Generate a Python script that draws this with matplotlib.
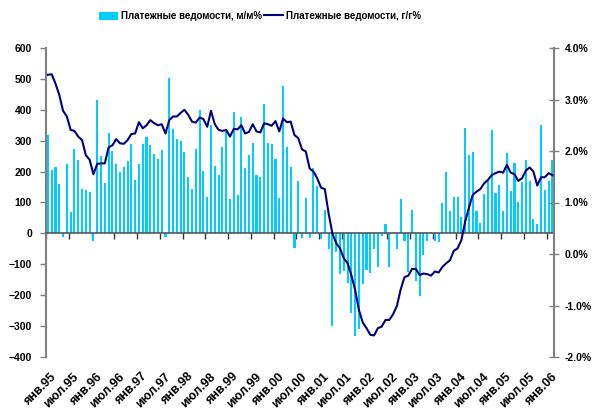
import matplotlib
matplotlib.use("Agg")
import matplotlib.pyplot as plt
from matplotlib.patches import Patch
from matplotlib.lines import Line2D
import numpy as np

mom = [320, 206, 216, 161, -12, 226, 68, 274, 239, 145, 139, 135,
       -25, 432, 252, 164, 326, 268, 226, 200, 216, 235, 289, 174,
       226, 289, 313, 287, 258, 242, 271, -12, 503, 339, 305, 298,
       264, 182, 145, 274, 400, 203, 119, 352, 219, 190, 281, 339,
       110, 393, 123, 377, 211, 255, 293, 190, 184, 419, 293, 290,
       242, 116, 477, 281, 216, -48, 171, -14, 116, -14, 213, 155,
       -18, 77, -51, -299, -60, -131, -121, -160, -259, -331, -311, -163,
       -118, -128, -51, -109, -8, 32, -109, 2, -52, 110, -23, -126,
       77, -154, -203, -70, -25, 3, -25, -28, 97, 200, 74, 119,
       119, 52, 342, 255, 264, 74, 33, 129, 173, 334, 132, 158,
       71, 261, 137, 227, 103, 166, 239, 171, 46, 32, 352, 142,
       169, 239]

yoy = [3.48, 3.49, 3.31, 3.09, 2.78, 2.67, 2.41, 2.39, 2.28, 2.21, 1.92, 1.83,
       1.55, 1.75, 1.76, 1.76, 2.07, 2.11, 2.23, 2.15, 2.14, 2.21, 2.33, 2.34,
       2.56, 2.44, 2.50, 2.60, 2.54, 2.50, 2.52, 2.34, 2.60, 2.67, 2.67, 2.74,
       2.80, 2.70, 2.57, 2.55, 2.65, 2.62, 2.47, 2.78, 2.52, 2.41, 2.39, 2.41,
       2.28, 2.43, 2.42, 2.50, 2.34, 2.37, 2.52, 2.38, 2.36, 2.54, 2.52, 2.49,
       2.58, 2.38, 2.63, 2.56, 2.57, 2.31, 2.25, 2.03, 1.99, 1.66, 1.60, 1.47,
       1.29, 1.26, 0.79, 0.40, 0.21, 0.11, -0.08, -0.18, -0.41, -0.70, -1.09, -1.33,
       -1.44, -1.57, -1.58, -1.44, -1.41, -1.28, -1.28, -1.17, -1.01, -0.69, -0.45, -0.42,
       -0.29, -0.29, -0.41, -0.38, -0.39, -0.42, -0.34, -0.36, -0.25, -0.18, -0.12, 0.06,
       0.11, 0.27, 0.63, 0.90, 1.15, 1.21, 1.26, 1.37, 1.44, 1.53, 1.57, 1.60,
       1.58, 1.73, 1.58, 1.55, 1.42, 1.47, 1.62, 1.68, 1.60, 1.33, 1.49, 1.49,
       1.57, 1.53]

tick_labels = ["янв.95", "июл.95", "янв.96", "июл.96", "янв.97", "июл.97",
               "янв.98", "июл.98", "янв.99", "июл.99", "янв.00", "июл.00",
               "янв.01", "июл.01", "янв.02", "июл.02", "янв.03", "июл.03",
               "янв.04", "июл.04", "янв.05", "июл.05", "янв.06"]

label_bar = "Платежные ведомости, м/м%"
label_line = "Платежные ведомости, г/г%"

plt.rcParams['font.family'] = ['Liberation Sans', 'DejaVu Sans']
plt.rcParams['font.weight'] = 'bold'

BAR_C = "#00CCFF"
LINE_C = "#000080"
SPINE_C = "#808080"

fig = plt.figure(figsize=(6.03, 4.18), dpi=100)
ax = fig.add_axes([46/603, 1-357/418, (554.3-46)/603, (357-48)/418])
x = np.arange(len(mom))
ax.bar(x, mom, width=0.55, color=BAR_C, zorder=2)
ax.set_xlim(-0.5, len(mom) - 0.5)
ax.set_ylim(-400, 600)
ax.set_yticks(np.arange(-400, 601, 100))
ax.tick_params(axis='y', direction='out', length=4, width=1, color=SPINE_C,
               labelsize=7.5, pad=6)
for lab in ax.get_yticklabels():
    lab.set_fontweight('bold')

ax.spines['top'].set_visible(False)
ax.spines['right'].set_visible(False)
ax.spines['left'].set_color(SPINE_C)
ax.spines['left'].set_linewidth(1.5)
ax.spines['bottom'].set_position(('data', 0))
ax.spines['bottom'].set_color('#555555')
ax.spines['bottom'].set_linewidth(1.2)
ax.spines['bottom'].set_zorder(3)

ax.set_xticks(np.arange(-0.5, len(mom), 6))
ax.tick_params(axis='x', direction='out', length=4, width=1, color='#333333',
               labelbottom=False)

trans = ax.get_xaxis_transform()
for k, lab in enumerate(tick_labels):
    ax.text(6 * k + 0.6, -0.045, lab, transform=trans, rotation=45,
            rotation_mode='anchor', ha='right', va='top', fontsize=9,
            fontweight='bold', color='black')

ax2 = ax.twinx()
ax2.plot(x, yoy, color=LINE_C, lw=1.5, zorder=4)
ax2.set_ylim(-2, 4)
ax2.set_yticks(np.arange(-2, 4.01, 1))
ax2.set_yticklabels([f"{v:.1f}%" for v in np.arange(-2, 4.01, 1)])
ax2.tick_params(axis='y', direction='inout', length=7, width=1, color=SPINE_C,
                labelsize=7.5, pad=4)
for lab in ax2.get_yticklabels():
    lab.set_fontweight('bold')
for s in ['top', 'left', 'bottom']:
    ax2.spines[s].set_visible(False)
ax2.spines['right'].set_color(SPINE_C)
ax2.spines['right'].set_linewidth(1.5)

handles = [Patch(facecolor=BAR_C, edgecolor='none'),
           Line2D([0], [0], color=LINE_C, lw=1.5)]
fig.legend(handles, [label_bar, label_line], loc='center',
           bbox_to_anchor=(260/603, 1-16/418), ncol=2, frameon=False,
           prop={'size': 7, 'weight': 'bold'}, handlelength=1.9,
           handleheight=0.9, handletextpad=0.3, columnspacing=0.3)

fig.savefig("out.png", dpi=100)
